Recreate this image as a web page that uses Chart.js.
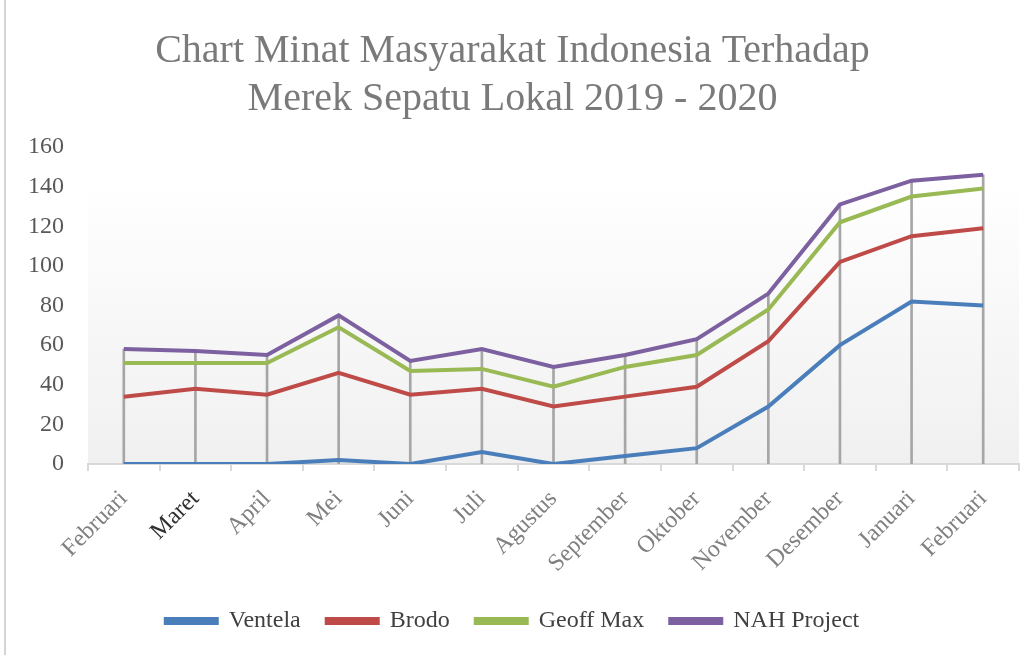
<!DOCTYPE html>
<html lang="id">
<head>
<meta charset="UTF-8">
<title>Chart Minat Masyarakat Indonesia</title>
<script src="https://cdn.jsdelivr.net/npm/chart.js@4"></script>
<style>
  * { box-sizing: border-box; margin: 0; padding: 0; }
  body { background: #fff; width: 1031px; height: 655px; overflow: hidden; }
  .wrap { position: relative; height: 655px; width: 1027px; margin-left: 4px; border-left: 2px solid #d4d4d4; }
</style>
</head>
<body>
<div class="wrap"><canvas id="chart" width="1025" height="655"></canvas></div>
<script>
// ── Data (values as plotted) ──────────────────────────────────────────────
const months = ['Februari', 'Maret', 'April', 'Mei', 'Juni', 'Juli', 'Agustus',
  'September', 'Oktober', 'November', 'Desember', 'Januari', 'Februari'];
const ventela    = [0, 0, 0, 2, 0, 6, 0, 4, 8, 29, 60, 82, 80];
const brodo      = [34, 38, 35, 46, 35, 38, 29, 34, 39, 62, 102, 115, 119];
const geoffMax   = [51, 51, 51, 69, 47, 48, 39, 49, 55, 78, 122, 135, 139];
const nahProject = [58, 57, 55, 75, 52, 58, 49, 55, 63, 86, 131, 143, 146];
const yTicks = [0, 20, 40, 60, 80, 100, 120, 140, 160];

const serif = "'Liberation Serif', 'DejaVu Serif', serif";

function line(label, data, color) {
  return { type: 'line', label, data, borderColor: color, backgroundColor: color,
    borderWidth: 4, pointRadius: 0, tension: 0, order: 1 };
}

// plot area gradient, Excel style
const plotFill = {
  id: 'plotFill',
  beforeDraw(chart) {
    const { ctx, chartArea: a } = chart;
    const top = a.top + 32;
    const g = ctx.createLinearGradient(0, top, 0, a.bottom);
    g.addColorStop(0, '#ffffff');
    g.addColorStop(1, '#f0f0f0');
    ctx.save();
    ctx.fillStyle = g;
    ctx.fillRect(a.left, top, a.right - a.left, a.bottom - top);
    ctx.restore();
  }
};

new Chart(document.getElementById('chart'), {
  data: {
    labels: months,
    datasets: [
      line('Ventela', ventela, '#4a7ebb'),
      line('Brodo', brodo, '#be4b48'),
      line('Geoff Max', geoffMax, '#98b954'),
      line('NAH Project', nahProject, '#7d60a0'),
      // drop lines from the top series down to the axis
      { type: 'bar', label: 'drop', data: nahProject, backgroundColor: '#a6a6a6',
        barThickness: 2, order: 2 }
    ]
  },
  options: {
    responsive: false,
    animation: false,
    layout: { padding: { left: 0, right: 12, top: 27, bottom: 12 } },
    plugins: {
      title: {
        display: true,
        text: ['Chart Minat Masyarakat Indonesia Terhadap', 'Merek Sepatu Lokal 2019 - 2020'],
        color: '#7a7a7a',
        font: { family: serif, size: 40, weight: 'normal' },
        lineHeight: 1.15,
        padding: { top: 0, bottom: 24 }
      },
      legend: {
        position: 'bottom',
        labels: {
          filter: item => item.text !== 'drop',
          boxWidth: 51, boxHeight: 4, padding: 26,
          color: '#404040',
          font: { family: serif, size: 24 }
        }
      },
      tooltip: { enabled: false }
    },
    scales: {
      x: {
        offset: true,
        afterFit: s => { s.height = 119; },
        grid: { offset: true, drawOnChartArea: false, color: '#d9d9d9', tickLength: 7, lineWidth: 2 },
        border: { color: '#d9d9d9', width: 2 },
        ticks: {
          color: c => (c.index === 1 ? '#303030' : '#808080'),
          minRotation: 45, maxRotation: 45, padding: 14,
          font: { family: serif, size: 24 }
        }
      },
      y: {
        min: 0, max: 160,
        afterBuildTicks: s => { s.ticks = yTicks.map(v => ({ value: v })); },
        afterFit: s => { s.width = 82; },
        grid: { display: false },
        border: { display: false },
        ticks: { color: '#595959', padding: 16, font: { family: serif, size: 24 } }
      }
    }
  },
  plugins: [plotFill]
});
</script>
</body>
</html>
